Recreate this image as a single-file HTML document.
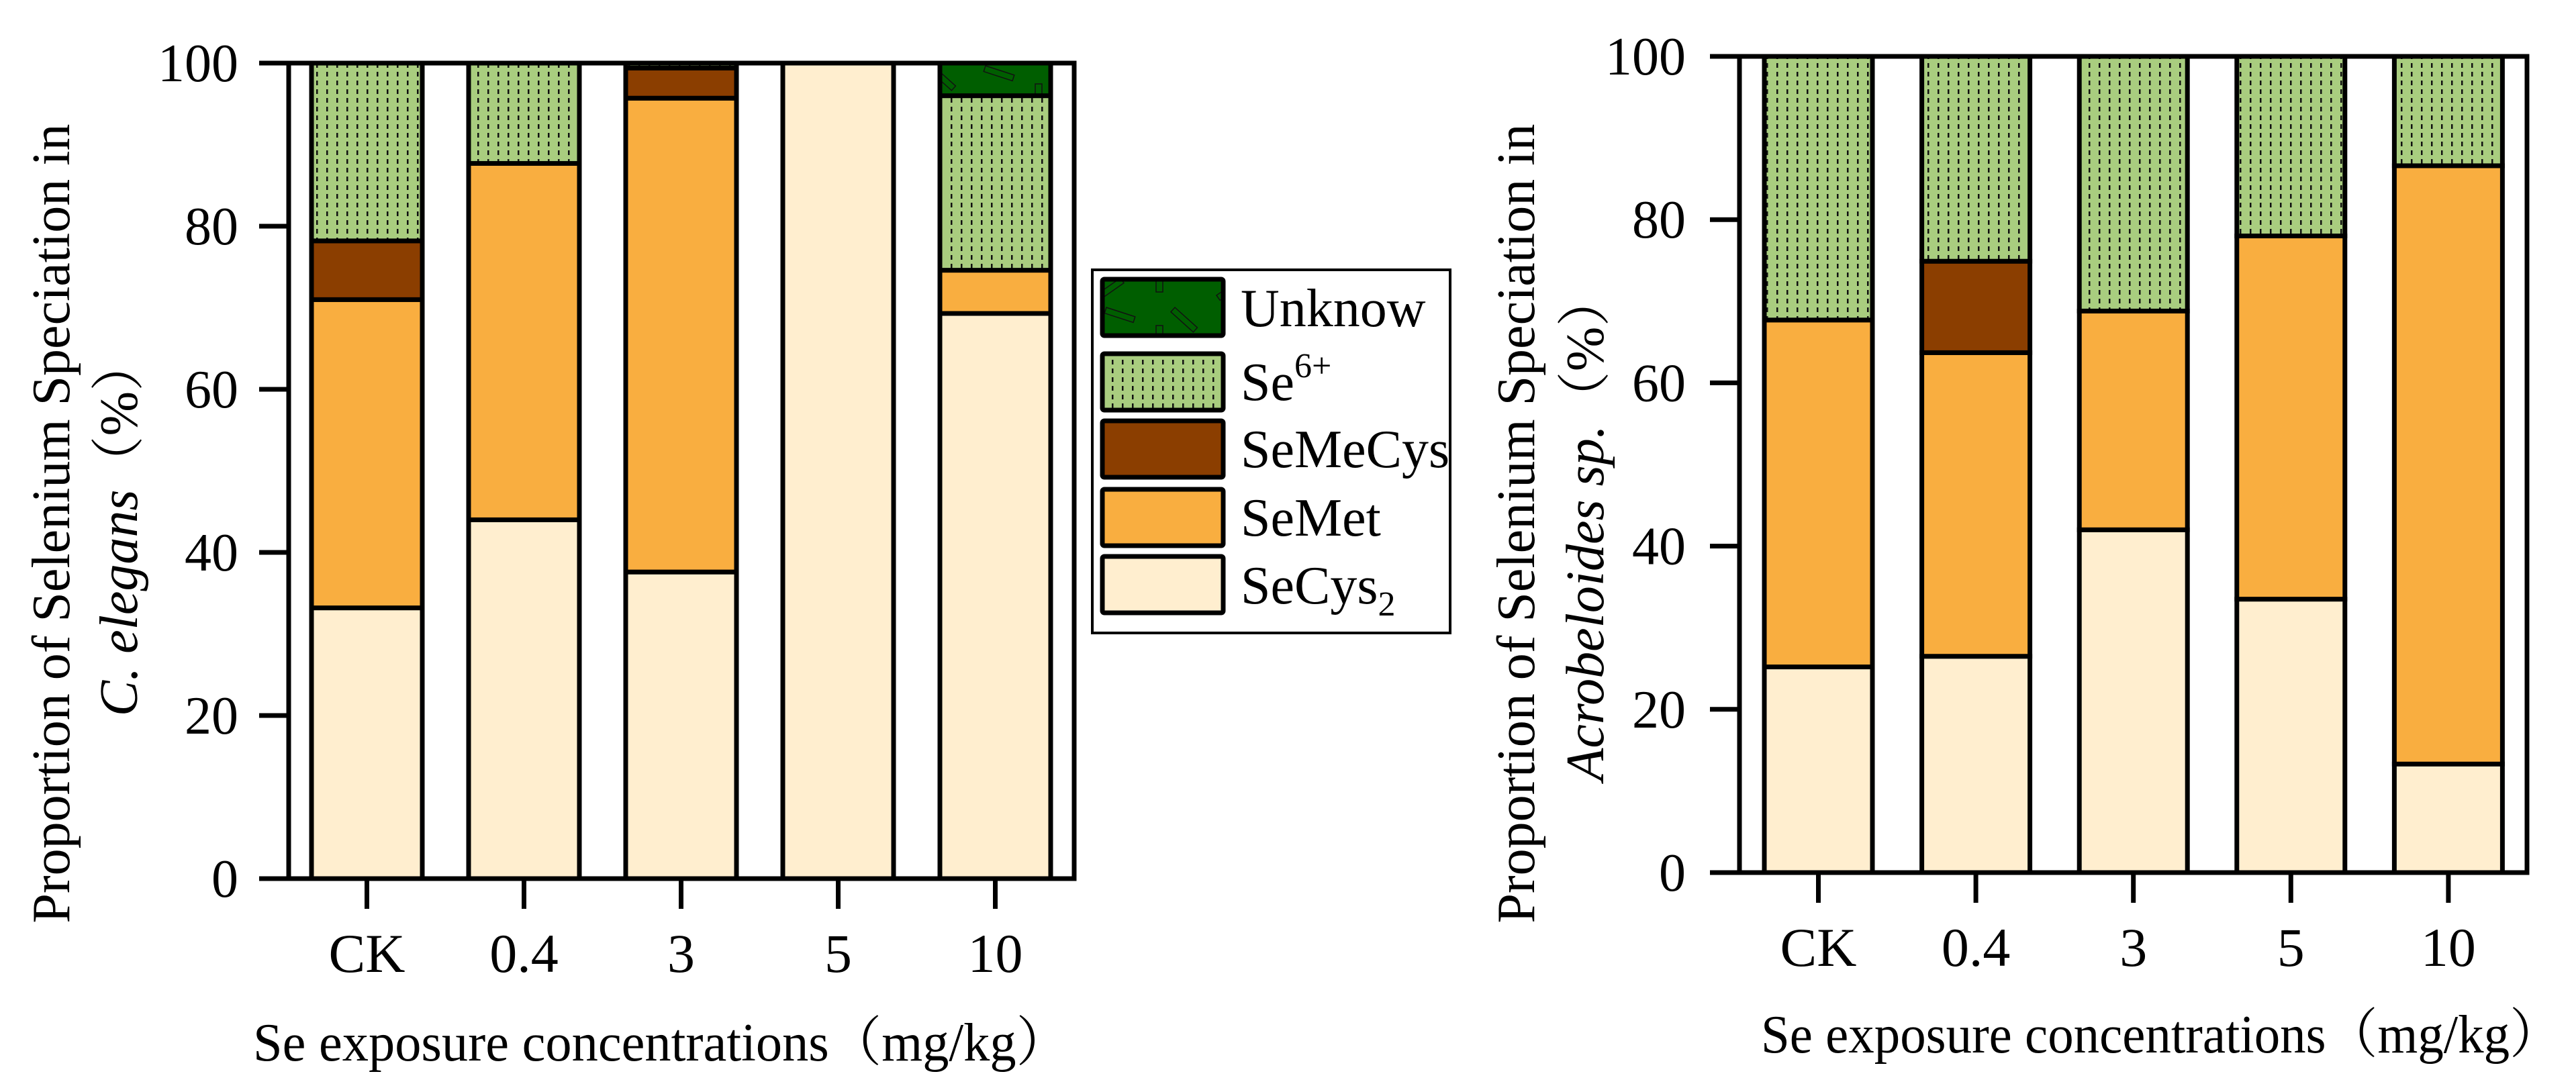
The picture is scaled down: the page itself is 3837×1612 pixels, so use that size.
<!DOCTYPE html>
<html><head><meta charset="utf-8"><style>
html,body{margin:0;padding:0;background:#fff;}
svg{display:block;}
text{font-family:"Liberation Serif","Noto Serif CJK SC",serif;fill:#000;}
</style></head><body>
<svg id="chart" width="3837" height="1612" viewBox="0 0 3837 1612" xmlns="http://www.w3.org/2000/svg">
<defs>
<pattern id="dash" patternUnits="userSpaceOnUse" width="15" height="13">
<rect width="15" height="13" fill="#a9cd7f"/>
<rect x="6" y="3" width="2.5" height="7" fill="#111"/>
</pattern>
<pattern id="unk" patternUnits="userSpaceOnUse" width="180" height="90">
<rect width="180" height="90" fill="#005e00"/>
<g fill="none" stroke="#111" stroke-width="1.5">
<rect x="28" y="8" width="45" height="9" transform="rotate(18 28 8)"/>
<rect x="102" y="35" width="10" height="40"/>
<rect x="130" y="8" width="45" height="9" transform="rotate(42 130 8)"/>
<rect x="12" y="80" width="45" height="9" transform="rotate(-35 12 80)"/>
</g>
</pattern>
</defs>
<g id="root"></g>
</svg>
<script>
const categories = ["CK","0.4","3","5","10"];
const seriesNames = ["SeCys2","SeMet","SeMeCys","Se6+","Unknow"];
// C. elegans (left panel)
const leftSeCys2  = [33.2, 44.0, 37.6, 100, 69.3];
const leftSeMet   = [37.8, 43.7, 58.1, 0, 5.3];
const leftSeMeCys = [7.2, 0, 3.7, 0, 0];
const leftSe6     = [21.8, 12.3, 0.6, 0, 21.4];
const leftUnknow  = [0, 0, 0, 0, 4.0];
// Acrobeloides sp. (right panel)
const rightSeCys2  = [25.2, 26.5, 42.0, 33.5, 13.3];
const rightSeMet   = [42.5, 37.2, 26.8, 44.5, 73.3];
const rightSeMeCys = [0, 11.2, 0, 0, 0];
const rightSe6     = [32.3, 25.1, 31.2, 22.0, 13.4];
const rightUnknow  = [0, 0, 0, 0, 0];
const yTicks = [0,20,40,60,80,100];

const fills = {"SeCys2":"#ffeecf","SeMet":"#f9ae40","SeMeCys":"#8b3e00","Se6+":"url(#dash)","Unknow":"url(#unk)"};
const NS="http://www.w3.org/2000/svg";
const root=document.getElementById('root');
function el(tag,attrs,parent){const e=document.createElementNS(NS,tag);for(const k in attrs)e.setAttribute(k,attrs[k]);(parent||root).appendChild(e);return e;}

function panel(p){
  const g=el('g',{});
  
  
  const y=v=>p.y0-(v/100)*(p.y0-p.y100);
  const slot=(p.xR-p.xL)/categories.length;
  const xs=i=>p.xL+i*slot+p.off;
  const series=[p.s[0],p.s[1],p.s[2],p.s[3],p.s[4]];
  categories.forEach((c,i)=>{
    let acc=0;
    series.forEach((arr,k)=>{
      const v=arr[i]; if(v<=0) return;
      const r=el('rect',{x:xs(i),y:y(acc+v),width:p.bw,height:y(acc)-y(acc+v),fill:fills[seriesNames[k]],stroke:'#000','stroke-width':7},g);
      
      
      acc+=v;
    });
    const cx=xs(i)+p.bw/2;
    const t=el('line',{x1:cx,x2:cx,y1:p.y0,y2:p.y0+45,stroke:'#000','stroke-width':7},g);
    
    
    const tl=el('text',{x:cx,y:p.y0+139,'font-size':82,'text-anchor':'middle'},g);
    tl.textContent=c;
    
    
  });
  const fr=el('rect',{x:p.xL,y:p.y100,width:p.xR-p.xL,height:p.y0-p.y100,fill:'none',stroke:'#000','stroke-width':7},g);
  
  
  yTicks.forEach(v=>{
    const l=el('line',{x1:p.xL-44,x2:p.xL,y1:y(v),y2:y(v),stroke:'#000','stroke-width':7},g);
    
    
    const tx=el('text',{x:p.tickX,y:y(v)+27,'font-size':80,'text-anchor':'end'},g);
    tx.textContent=v;
    
    
  });
  const yt=el('text',{transform:`translate(${p.t1x},780) rotate(-90)`,'font-size':80,'text-anchor':'middle'},g);
  yt.textContent='Proportion of Selenium Speciation in';
  
  
  const yt2=el('text',{transform:`translate(${p.t2x},785) rotate(-90)`,'font-size':80,'text-anchor':'middle'},g);
  yt2.innerHTML=`<tspan font-style="italic">${p.species}</tspan>（%）`;
  
  
  const xt=el('text',{x:p.xtX,y:p.xtY,'font-size':80,textLength:p.xtW,lengthAdjust:'spacingAndGlyphs'},g);
  xt.textContent='Se exposure concentrations（mg/kg）';
  
  
}
panel({name:'c-elegans-chart',xL:430,xR:1600,y0:1309,y100:94,off:34,bw:165,tickX:355,t1x:103,t2x:204,species:'C. elegans',xtX:377,xtY:1580,xtW:1215,
  s:[leftSeCys2,leftSeMet,leftSeMeCys,leftSe6,leftUnknow]});
panel({name:'acrobeloides-chart',xL:2591,xR:3764,y0:1300,y100:84,off:37,bw:161,tickX:2511,t1x:2285,t2x:2388,species:'Acrobeloides sp.',xtX:2623,xtY:1568,xtW:1192,
  s:[rightSeCys2,rightSeMet,rightSeMeCys,rightSe6,rightUnknow]});

// legend
const lg=el('g',{});


el('rect',{x:1627,y:402,width:533,height:541,fill:'#fff',stroke:'#000','stroke-width':4},lg);
const legItems=[["Unknow",413,486],["Se6+",524,596],["SeMeCys",624,696],["SeMet",726,798],["SeCys2",826,899]];
legItems.forEach(([n,top,base])=>{
  const r=el('rect',{x:1642,y:top+3,width:180,height:84,fill:fills[n],stroke:'#000','stroke-width':7,rx:3},lg);
  
  
  const t=el('text',{x:1848,y:base,'font-size':80},lg);
  if(n==='Se6+') t.innerHTML='Se<tspan font-size="52" dy="-34">6+</tspan>';
  else if(n==='SeCys2') t.innerHTML='SeCys<tspan font-size="52" dy="18">2</tspan>';
  else t.textContent=n;
  
  
});
</script>
</body></html>
